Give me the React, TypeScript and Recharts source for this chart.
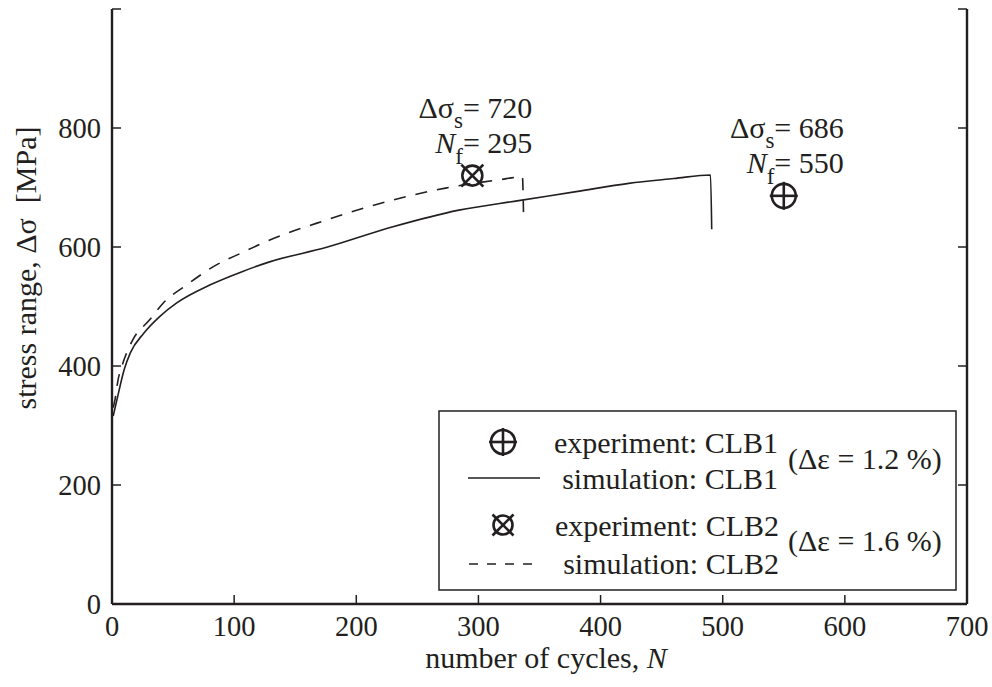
import React from "react";
import { ComposedChart, Line, Scatter, XAxis, YAxis } from "recharts";

const FONT = "Liberation Serif";
const INK = "#231f20";

// axis ticks
const xTicks = [0, 100, 200, 300, 400, 500, 600, 700];
const yTicks = [0, 200, 400, 600, 800, 1000];
const yLabelled = [0, 200, 400, 600, 800];

// simulation CLB1 (solid)
const simClb1N = [1, 2, 5, 10, 15, 26, 39, 53, 80, 107, 129, 175, 230, 284, 333, 380, 423, 460, 490, 491];
const simClb1S = [316, 325, 352, 394, 422, 455, 483, 506, 536, 559, 575, 599, 634, 662, 678, 693, 707, 715, 721, 630];

// simulation CLB2 (dashed)
const simClb2N = [1, 2.5, 5, 8, 13, 17, 31, 42, 61, 83, 107, 126, 175, 230, 273, 317, 336, 337];
const simClb2S = [330, 344, 377, 399, 427, 444, 478, 506, 536, 567, 591, 609, 645, 679, 699, 713, 718, 646];

// experiments
const expClb1 = [{ n: 550, s: 686 }];
const expClb2 = [{ n: 295, s: 720 }];

const sim1 = simClb1N.map((n, i) => ({ n, s: simClb1S[i] }));
const sim2 = simClb2N.map((n, i) => ({ n, s: simClb2S[i] }));

const txt = { fontFamily: FONT, fontSize: 30, fill: INK } as const;
const tickTxt = { fontFamily: FONT, fontSize: 28.5, fill: INK } as const;

function PlusMark({ cx, cy, r = 12 }: any) {
  return (
    <g stroke={INK} strokeWidth={2.6} fill="none">
      <circle cx={cx} cy={cy} r={r} />
      <line x1={cx - r - 2} x2={cx + r + 2} y1={cy} y2={cy} />
      <line x1={cx} x2={cx} y1={cy - r - 2} y2={cy + r + 2} />
    </g>
  );
}

function CrossMark({ cx, cy, r = 10 }: any) {
  const d = r + 1;
  return (
    <g stroke={INK} strokeWidth={2.6} fill="none">
      <circle cx={cx} cy={cy} r={r} />
      <line x1={cx - d} x2={cx + d} y1={cy - d} y2={cy + d} />
      <line x1={cx - d} x2={cx + d} y1={cy + d} y2={cy - d} />
    </g>
  );
}

function Note({ cx, cy, n, s }: any) {
  return (
    <g>
      <text x={cx + 60} y={cy - 58} textAnchor="end" style={txt}>
        Δσ<tspan dy={10} style={{ fontSize: 23 }}>s</tspan>
        <tspan dy={-10}>= {s}</tspan>
      </text>
      <text x={cx + 60} y={cy - 23} textAnchor="end" style={txt}>
        <tspan style={{ fontStyle: "italic" }}>N</tspan>
        <tspan dy={11} style={{ fontSize: 23 }}>f</tspan>
        <tspan dy={-11}>= {n}</tspan>
      </text>
    </g>
  );
}

const exp1Shape = (p: any) => (
  <g>
    <PlusMark cx={p.cx} cy={p.cy} />
    <Note cx={p.cx} cy={p.cy} n={p.payload.n} s={p.payload.s} />
  </g>
);

const exp2Shape = (p: any) => (
  <g>
    <CrossMark cx={p.cx} cy={p.cy} />
    <Note cx={p.cx} cy={p.cy} n={p.payload.n} s={p.payload.s} />
  </g>
);

const BottomTick = ({ x, y, payload }: any) => (
  <g>
    <line x1={x} x2={x} y1={y} y2={y - 9} stroke={INK} strokeWidth={1.5} />
    <text x={x} y={y + 32} textAnchor="middle" style={tickTxt}>
      {payload.value}
    </text>
  </g>
);

const TopTick = ({ x, y }: any) => (
  <line x1={x} x2={x} y1={y} y2={y + 9} stroke={INK} strokeWidth={1.5} />
);

const LeftTick = ({ x, y, payload }: any) => (
  <g>
    <line x1={x} x2={x + 9} y1={y} y2={y} stroke={INK} strokeWidth={1.5} />
    {yLabelled.includes(payload.value) && (
      <text x={x - 11} y={y} dy="0.35em" textAnchor="end" style={tickTxt}>
        {payload.value}
      </text>
    )}
  </g>
);

const RightTick = ({ x, y }: any) => (
  <line x1={x} x2={x - 9} y1={y} y2={y} stroke={INK} strokeWidth={1.5} />
);

function Overlay() {
  return (
    <svg width={992} height={687} style={{ position: "absolute", left: 0, top: 0, pointerEvents: "none" }}>
      <text style={txt} transform="translate(36 268) rotate(-90)" textAnchor="middle">
        stress range, Δσ{"\u00a0\u00a0"}[MPa]
      </text>
      <text style={txt} x={546} y={668} textAnchor="middle">
        number of cycles, <tspan style={{ fontStyle: "italic" }}>N</tspan>
      </text>
      <g transform="translate(439 411)">
        <rect x={0} y={0} width={517} height={179} fill="#fff" stroke={INK} strokeWidth={1.5} />
        <PlusMark cx={64} cy={31} />
        <line x1={29} x2={101} y1={67} y2={67} stroke={INK} strokeWidth={1.5} />
        <CrossMark cx={64} cy={114} r={9.5} />
        <line x1={30} x2={101} y1={153} y2={153} stroke={INK} strokeWidth={1.5} strokeDasharray="9 9" />
        <text style={txt} x={339} y={31} dy="0.35em" textAnchor="end">experiment: CLB1</text>
        <text style={txt} x={339} y={67} dy="0.35em" textAnchor="end">simulation: CLB1</text>
        <text style={txt} x={340} y={114} dy="0.35em" textAnchor="end">experiment: CLB2</text>
        <text style={txt} x={340} y={152} dy="0.35em" textAnchor="end">simulation: CLB2</text>
        <text style={txt} x={349} y={47} dy="0.35em">(Δε = 1.2 %)</text>
        <text style={txt} x={349} y={129} dy="0.35em">(Δε = 1.6 %)</text>
      </g>
    </svg>
  );
}

export default function App() {
  return (
    <div style={{ position: "absolute", left: 0, top: 0, width: 992, height: 687, background: "#fff" }}>
      <ComposedChart width={992} height={687} margin={{ top: 9, right: 0, bottom: 0, left: 0 }}>
        <XAxis
          dataKey="n"
          type="number"
          domain={[0, 700]}
          ticks={xTicks}
          interval={0}
          height={83}
          tickSize={0}
          tickMargin={0}
          tickLine={false}
          tick={<BottomTick />}
          axisLine={{ stroke: INK, strokeWidth: 2.4 }}
          allowDataOverflow
        />
        <XAxis
          xAxisId="top"
          orientation="top"
          type="number"
          domain={[0, 700]}
          ticks={xTicks}
          interval={0}
          height={0}
          tickSize={0}
          tickMargin={0}
          tickLine={false}
          tick={<TopTick />}
          axisLine={{ stroke: INK, strokeWidth: 2.4 }}
          allowDataOverflow
        />
        <YAxis
          dataKey="s"
          type="number"
          domain={[0, 1000]}
          ticks={yTicks}
          interval={0}
          width={112}
          tickSize={0}
          tickMargin={0}
          tickLine={false}
          tick={<LeftTick />}
          axisLine={{ stroke: INK, strokeWidth: 2.4 }}
          allowDataOverflow
        />
        <YAxis
          yAxisId="right"
          orientation="right"
          type="number"
          domain={[0, 1000]}
          ticks={yTicks}
          interval={0}
          width={25}
          tickSize={0}
          tickMargin={0}
          tickLine={false}
          tick={<RightTick />}
          axisLine={{ stroke: INK, strokeWidth: 2.4 }}
          allowDataOverflow
        />
        <Line data={sim1} dataKey="s" type="monotone" stroke={INK} strokeWidth={1.6} dot={false} isAnimationActive={false} />
        <Line
          data={sim2}
          dataKey="s"
          type="monotone"
          stroke={INK}
          strokeWidth={1.6}
          strokeDasharray="12 10"
          dot={false}
          isAnimationActive={false}
        />
        <Scatter data={expClb1} dataKey="s" shape={exp1Shape} isAnimationActive={false} />
        <Scatter data={expClb2} dataKey="s" shape={exp2Shape} isAnimationActive={false} />
      </ComposedChart>
      <Overlay />
    </div>
  );
}
